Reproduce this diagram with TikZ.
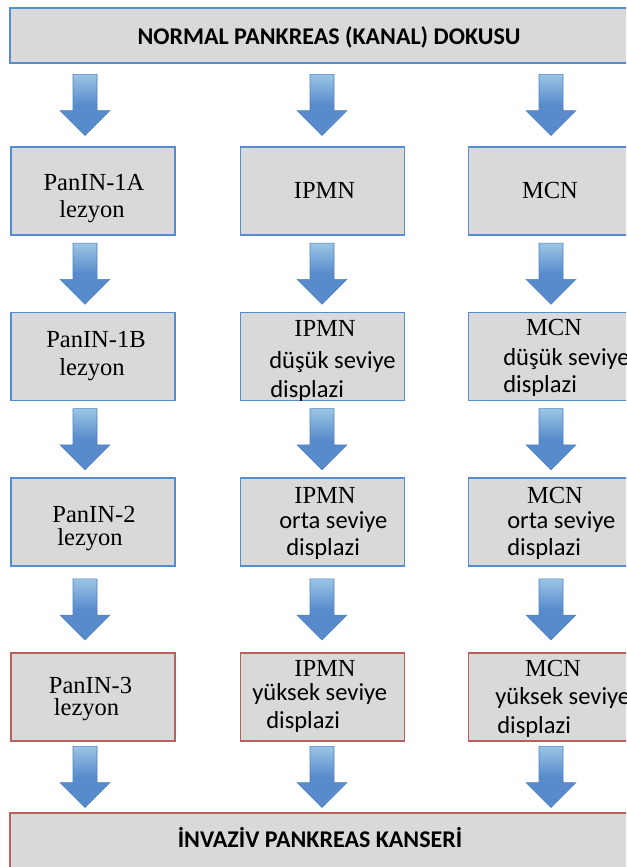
\documentclass[tikz,border=0pt]{standalone}
\usepackage{fontspec}
\setmainfont{Liberation Serif}
\newfontfamily\calibri{Carlito}
\usetikzlibrary{calc}
\definecolor{boxblue}{RGB}{84,141,212}
\definecolor{boxred}{RGB}{185,95,95}
\definecolor{boxgray}{RGB}{217,217,217}
\definecolor{arrowlight}{RGB}{155,197,229}
\definecolor{arrowdark}{RGB}{88,139,204}
\definecolor{arrowedge}{RGB}{79,129,189}

% block arrow centred in the gap between two nodes, at column x
\newcommand\flowarrow[3]{%
  \shade[arrowfill] let \p1=($(#1.south)!0.5!(#2.north)$), \p2=(#3,0) in
    (\x2-9pt,\y1+22.9pt) -- (\x2+9pt,\y1+22.9pt) -- (\x2+9pt,\y1-4.15pt)
    -- (\x2+18.75pt,\y1-4.15pt) -- (\x2,\y1-22.9pt)
    -- (\x2-18.75pt,\y1-4.15pt) -- (\x2-9pt,\y1-4.15pt) -- cycle;}

\begin{document}
\begin{tikzpicture}[
    x=0.75pt, y=-0.75pt,
    box/.style={draw=boxblue, line width=1.1pt, fill=boxgray,
      minimum width=123pt, minimum height=66pt, inner sep=0pt},
    redbox/.style={box, draw=boxred},
    serif/.style={font=\fontsize{18.4}{22}\selectfont, anchor=base, inner sep=0pt},
    sans/.style={font=\calibri\fontsize{18.4}{22}\selectfont, anchor=base west, inner sep=0pt},
    head/.style={font=\calibri\bfseries\fontsize{18}{22}\selectfont, anchor=base, inner sep=0pt},
    arrowfill/.style={top color=arrowlight, bottom color=arrowdark,
      middle color=arrowdark, draw=arrowedge, line width=0.4pt}
  ]
  \useasboundingbox (0,0) rectangle (626,867);
  \clip (0,0) rectangle (626,867);

  % top and bottom bars
  \node[box, minimum width=480pt, minimum height=41.25pt] (normal) at (330,35.5) {};
  \node[redbox, minimum width=480pt, minimum height=45pt] (invaziv) at (330,843) {};
  \node[head] (normalt) at (329,45) {NORMAL PANKREAS (KANAL) DOKUSU};
  \node[head] (invazivt) at (320,847) {İNVAZİV PANKREAS KANSERİ};

  % boxes
  \node[box] (L1) at (93,191) {};
  \node[box] (M1) at (322.5,191) {};
  \node[box] (R1) at (550.5,191) {};
  \node[box] (L2) at (93,356.5) {};
  \node[box] (M2) at (322.5,356.5) {};
  \node[box] (R2) at (550.5,356.5) {};
  \node[box] (L3) at (93,522) {};
  \node[box] (M3) at (322.5,522) {};
  \node[box] (R3) at (550.5,522) {};
  \node[redbox] (L4) at (93,697) {};
  \node[redbox] (M4) at (322.5,697) {};
  \node[redbox] (R4) at (550.5,697) {};

  % box texts
  \node[serif] (L1a) at (94,190) {PanIN-1A};
  \node[serif] (L1b) at (92,217) {lezyon};
  \node[serif] (M1a) at (324.5,198) {IPMN};
  \node[serif] (R1a) at (550,198) {MCN};

  \node[serif] (L2a) at (96,347) {PanIN-1B};
  \node[serif] (L2b) at (92,375) {lezyon};
  \node[serif] (M2a) at (325,336) {IPMN};
  \node[sans] (M2b) at (269,368) {düşük seviye};
  \node[sans] (M2c) at (270,397) {displazi};
  \node[serif] (R2a) at (554,335) {MCN};
  \node[sans] (R2b) at (503,365) {düşük seviye};
  \node[sans] (R2c) at (503,392) {displazi};

  \node[serif] (L3a) at (94,522) {PanIN-2};
  \node[serif] (L3b) at (90,545) {lezyon};
  \node[serif] (M3a) at (325,503) {IPMN};
  \node[sans] (M3b) at (279,528) {orta seviye};
  \node[sans] (M3c) at (286,555) {displazi};
  \node[serif] (R3a) at (555,503) {MCN};
  \node[sans] (R3b) at (507,528) {orta seviye};
  \node[sans] (R3c) at (507,555) {displazi};

  \node[serif] (L4a) at (90.5,693) {PanIN-3};
  \node[serif] (L4b) at (86.5,715) {lezyon};
  \node[serif] (M4a) at (325,676) {IPMN};
  \node[sans] (M4b) at (252,700) {yüksek seviye};
  \node[sans] (M4c) at (266,728) {displazi};
  \node[serif] (R4a) at (553,676) {MCN};
  \node[sans] (R4b) at (495,704) {yüksek seviye};
  \node[sans] (R4c) at (497,733) {displazi};

  % arrows
  \foreach \col/\ax in {L/85, M/322, R/551} {
    \flowarrow{normal}{\col1}{\ax}
    \flowarrow{\col1}{\col2}{\ax}
    \flowarrow{\col2}{\col3}{\ax}
    \flowarrow{\col3}{\col4}{\ax}
    \flowarrow{\col4}{invaziv}{\ax}
  }
\end{tikzpicture}
\end{document}
